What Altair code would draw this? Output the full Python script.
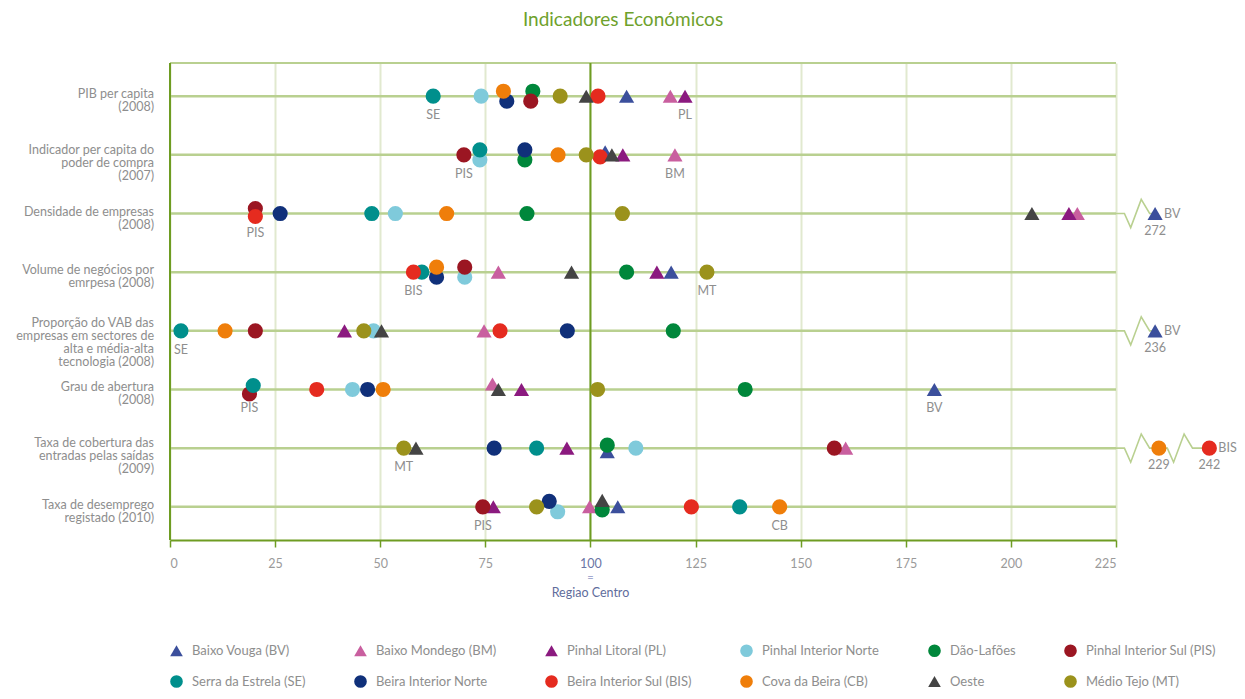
import altair as alt
import pandas as pd

FONT = "Lato"

# ---------------- data ----------------
indicators = [
    "PIB per capita\n(2008)",
    "Indicador per capita do\npoder de compra\n(2007)",
    "Densidade de empresas\n(2008)",
    "Volume de negócios por\nemrpesa (2008)",
    "Proporção do VAB das\nempresas em sectores de\nalta e média-alta\ntecnologia (2008)",
    "Grau de abertura\n(2008)",
    "Taxa de cobertura das\nentradas pelas saídas\n(2009)",
    "Taxa de desemprego\nregistado (2010)",
]

regions = [
    "Baixo Vouga (BV)", "Baixo Mondego (BM)", "Pinhal Litoral (PL)",
    "Pinhal Interior Norte", "Dão-Lafões", "Pinhal Interior Sul (PIS)",
    "Serra da Estrela (SE)", "Beira Interior Norte", "Beira Interior Sul (BIS)",
    "Cova da Beira (CB)", "Oeste", "Médio Tejo (MT)",
]
codes = ["BV", "BM", "PL", "PIN", "DL", "PIS", "SE", "BIN", "BIS", "CB", "OE", "MT"]
shapes = ["triangle-up", "triangle-up", "triangle-up", "circle", "circle", "circle",
          "circle", "circle", "circle", "circle", "triangle-up", "circle"]
colors = ["#3b4f9c", "#c95f9f", "#8b1a7f", "#7fcadb", "#00873b", "#9b1622",
          "#008f8c", "#10307a", "#e52b1f", "#ef7e0a", "#444444", "#9b921c"]

# one value per indicator (index = 100 for Região Centro)
BV  = [108.6, 103.5, 272.0, 119.2, 236.0, 181.8, 104.0, 106.5]
BM  = [119.0, 120.1, 215.8, 78.1, 74.7, 76.7, 160.7, 99.8]
PL  = [122.5, 107.7, 213.8, 115.8, 41.5, 83.6, 94.4, 76.9]
PIN = [74.0, 73.7, 53.6, 70.1, 48.4, 43.4, 110.8, 92.2]
DL  = [86.3, 84.4, 84.9, 108.6, 119.7, 136.8, 104.0, 102.8]
PIS = [85.8, 69.9, 20.3, 70.1, 20.3, 18.9, 158.0, 74.4]
SE  = [62.6, 73.7, 48.0, 59.9, 2.6, 19.8, 87.2, 135.5]
BIN = [80.1, 84.4, 26.2, 63.4, 94.5, 47.0, 77.1, 90.2]
BIS = [101.8, 102.3, 20.3, 57.9, 78.5, 34.9, 242.0, 124.0]
CB  = [79.3, 92.3, 65.8, 63.4, 13.1, 50.7, 229.0, 145.0]
OE  = [99.0, 105.1, 205.0, 95.5, 50.3, 78.1, 58.5, 102.8]
MT  = [92.8, 99.0, 107.6, 127.7, 46.1, 101.7, 55.6, 87.2]
series = [BV, BM, PL, PIN, DL, PIS, SE, BIN, BIS, CB, OE, MT]

x_ticks = [0, 25, 50, 75, 100, 125, 150, 175, 200, 225]
axis_max = 225
reference_value = 100
reference_label = "Regiao Centro"

# values beyond the axis, drawn after a scale break: (row, code, shown at)
breaks = [(2, "BV", 234.3), (4, "BV", 234.3), (6, "CB", 235.2), (6, "BIS", 247.2)]
break_names = [(2, "BV"), (4, "BV"), (6, "BIS")]

# overlapping markers nudged up (-) or down (+) as in the picture
nudges = {(0, "CB"): -1, (0, "BIN"): 1, (0, "DL"): -1, (0, "PIS"): 1,
          (1, "SE"): -1, (1, "PIN"): 1, (1, "BIN"): -1, (1, "DL"): 1,
          (1, "BIS"): 0.4, (1, "BV"): -0.6,
          (2, "PIS"): -1, (2, "BIS"): 0.6,
          (3, "CB"): -1, (3, "BIN"): 1, (3, "PIS"): -1, (3, "PIN"): 1,
          (5, "PIS"): 0.9, (5, "SE"): -0.8, (5, "BM"): -1.1,
          (6, "DL"): -0.6, (6, "BV"): 0.7,
          (7, "BIN"): -1.1, (7, "PIN"): 1, (7, "OE"): -1.3, (7, "DL"): 0.6}

# short region tags written under markers: (row, code)
tags = [(0, "SE"), (0, "PL"), (1, "PIS"), (1, "BM"), (2, "PIS"), (3, "BIS"), (3, "MT"),
        (4, "SE"), (5, "PIS"), (5, "BV"), (6, "MT"), (7, "PIS"), (7, "CB")]

# ---------------- tables ----------------
W, H = 946, 477
PAD_ROWS = 0.566
NUDGE = 0.085
STEP = H / (len(indicators) - 1 + 2 * PAD_ROWS)
LINE_H = 13

break_pos = {(r, c): p for r, c, p in breaks}
val = {(k, codes[i]): series[i][k] for i in range(len(codes)) for k in range(len(indicators))}

pts = []
for i, code in enumerate(codes):
    for k, v in enumerate(series[i]):
        pts.append(dict(region=regions[i], code=code, row=k, value=v,
                        xpos=break_pos.get((k, code), v),
                        ypos=k + NUDGE * nudges.get((k, code), 0)))
pts = pd.DataFrame(pts)

n_lines = [len(s.split("\n")) for s in indicators]
rows_df = pd.DataFrame(dict(
    row=list(range(len(indicators))), label=indicators,
    # first text line sits a little higher for taller labels so the block stays near its row
    ylab=[k + (1 - 3 * (n - 1)) / STEP for k, n in enumerate(n_lines)],
    x0=[0] * len(indicators), x1=[axis_max] * len(indicators)))

tag_df = pd.DataFrame([dict(row=r, code=c, xpos=val[(r, c)]) for r, c in tags])

brk_val_df = pd.DataFrame([dict(row=r, xpos=p, txt=f"{val[(r, c)]:.0f}") for r, c, p in breaks])
brk_name_df = pd.DataFrame([dict(row=r, xpos=break_pos[(r, c)], txt=c) for r, c in break_names])

# zig-zag break glyphs following the row line past the axis end
zig_dx = [0, 1.5, 4.0, 6.0]
zig_dy = [0, 0.24, -0.24, 0]
zig = []
for r in sorted(set(b[0] for b in breaks)):
    seq = 0
    prev = axis_max
    zig.append(dict(row=r, seq=seq, x=prev, y=r)); seq += 1
    for rr, c, p in breaks:
        if rr != r:
            continue
        start = prev + 2.0
        for dx, dy in zip(zig_dx, zig_dy):
            zig.append(dict(row=r, seq=seq, x=start + dx, y=r + dy)); seq += 1
        zig.append(dict(row=r, seq=seq, x=p, y=r)); seq += 1
        prev = p
zig_df = pd.DataFrame(zig)

ref_df = pd.DataFrame(dict(ref=[0, reference_value]))
top_df = pd.DataFrame(dict(x0=[0], x1=[axis_max]))
center_df = pd.DataFrame(dict(ref=[reference_value], eq=["="], name=[reference_label]))
title_df = pd.DataFrame(dict(t=["Indicadores Económicos"]))

# ---------------- scales / axes ----------------
ROW_COL = "#b9d090"
DARK = "#6e9c22"
GRID = "#e1e9cf"
GREY = "#8e8e8e"

xscale = alt.Scale(domain=[0, axis_max], nice=False, zero=False)
yscale = alt.Scale(domain=[-PAD_ROWS, len(indicators) - 1 + PAD_ROWS], reverse=True, nice=False, zero=False)
xaxis = alt.Axis(values=x_ticks, title=None, grid=True, gridColor=GRID, gridWidth=2,
                 domainColor=DARK, domainWidth=2, tickColor=DARK, tickWidth=1.5, tickSize=7,
                 labelFont=FONT, labelFontSize=12.5, labelPadding=10,
                 labelColor=alt.condition("datum.value == 100", alt.value("#6b75a5"), alt.value("#9a9a9a")))


def X(field):
    return alt.X(field, type="quantitative", scale=xscale, axis=xaxis)


def Y(field):
    return alt.Y(field, type="quantitative", scale=yscale, axis=None)


base_rows = alt.Chart(rows_df)

row_lines = base_rows.mark_rule(color=ROW_COL, strokeWidth=2.5).encode(
    x=X("x0"), x2="x1", y=Y("row"))

top_line = alt.Chart(top_df).mark_rule(color=ROW_COL, strokeWidth=2).encode(
    x=X("x0"), x2="x1", y=alt.value(0))

zig_lines = alt.Chart(zig_df).mark_line(color=ROW_COL, strokeWidth=1.6).encode(
    x=X("x"), y=Y("y"), detail="row:N", order="seq:Q")

ref_lines = alt.Chart(ref_df).mark_rule(color=DARK, strokeWidth=2).encode(
    x=X("ref"), y=alt.value(0), y2=alt.value(H))

legend = alt.Legend(orient="none", legendX=0, legendY=581, direction="horizontal", columns=6,
                    columnPadding=48, rowPadding=17, symbolSize=160, symbolStrokeWidth=0,
                    labelFont=FONT, labelFontSize=13, labelColor=GREY, labelOffset=9,
                    labelLimit=0, padding=0, title=None)

points = alt.Chart(pts).mark_point(filled=True, opacity=1, size=230, strokeWidth=0).encode(
    x=X("xpos"), y=Y("ypos"),
    color=alt.Color("region:N", scale=alt.Scale(domain=regions, range=colors), legend=legend),
    shape=alt.Shape("region:N", scale=alt.Scale(domain=regions, range=shapes), legend=legend),
)

row_labels = base_rows.mark_text(align="right", baseline="middle", lineBreak="\n",
                                 lineHeight=LINE_H, font=FONT, fontSize=12.5, color=GREY).encode(
    x=alt.value(-16), y=Y("ylab"), text="label:N")

tag_text = alt.Chart(tag_df).mark_text(align="center", baseline="middle", dy=19, font=FONT,
                                       fontSize=12.5, color=GREY).encode(
    x=X("xpos"), y=Y("row"), text="code:N")

brk_vals = alt.Chart(brk_val_df).mark_text(align="center", baseline="middle", dy=17, font=FONT,
                                           fontSize=12.5, color=GREY).encode(
    x=X("xpos"), y=Y("row"), text="txt:N")

brk_names = alt.Chart(brk_name_df).mark_text(align="left", baseline="middle", dx=9, font=FONT,
                                             fontSize=12.5, color=GREY).encode(
    x=X("xpos"), y=Y("row"), text="txt:N")

center_eq = alt.Chart(center_df).mark_text(align="center", baseline="middle", font=FONT,
                                           fontSize=11, color="#a3a9cf").encode(
    x=X("ref"), y=alt.value(H + 38), text="eq:N")

center_name = alt.Chart(center_df).mark_text(align="center", baseline="middle", font=FONT,
                                             fontSize=12.5, color="#5f6d9c").encode(
    x=X("ref"), y=alt.value(H + 53), text="name:N")

title = alt.Chart(title_df).mark_text(align="center", baseline="alphabetic", font=FONT,
                                      fontSize=19, color="#6ea12c").encode(
    x=alt.value(453), y=alt.value(-37), text="t:N")

chart = alt.layer(
    row_lines, top_line, zig_lines, ref_lines, points,
    row_labels, tag_text, brk_vals, brk_names, center_eq, center_name, title,
).properties(
    width=W, height=H,
    autosize=alt.AutoSizeParams(type="none"),
    padding={"left": 162, "top": 55, "right": 121, "bottom": 151},
).configure_view(stroke=None)

chart.save("out.html", embed_options={"renderer": "svg", "actions": False})
